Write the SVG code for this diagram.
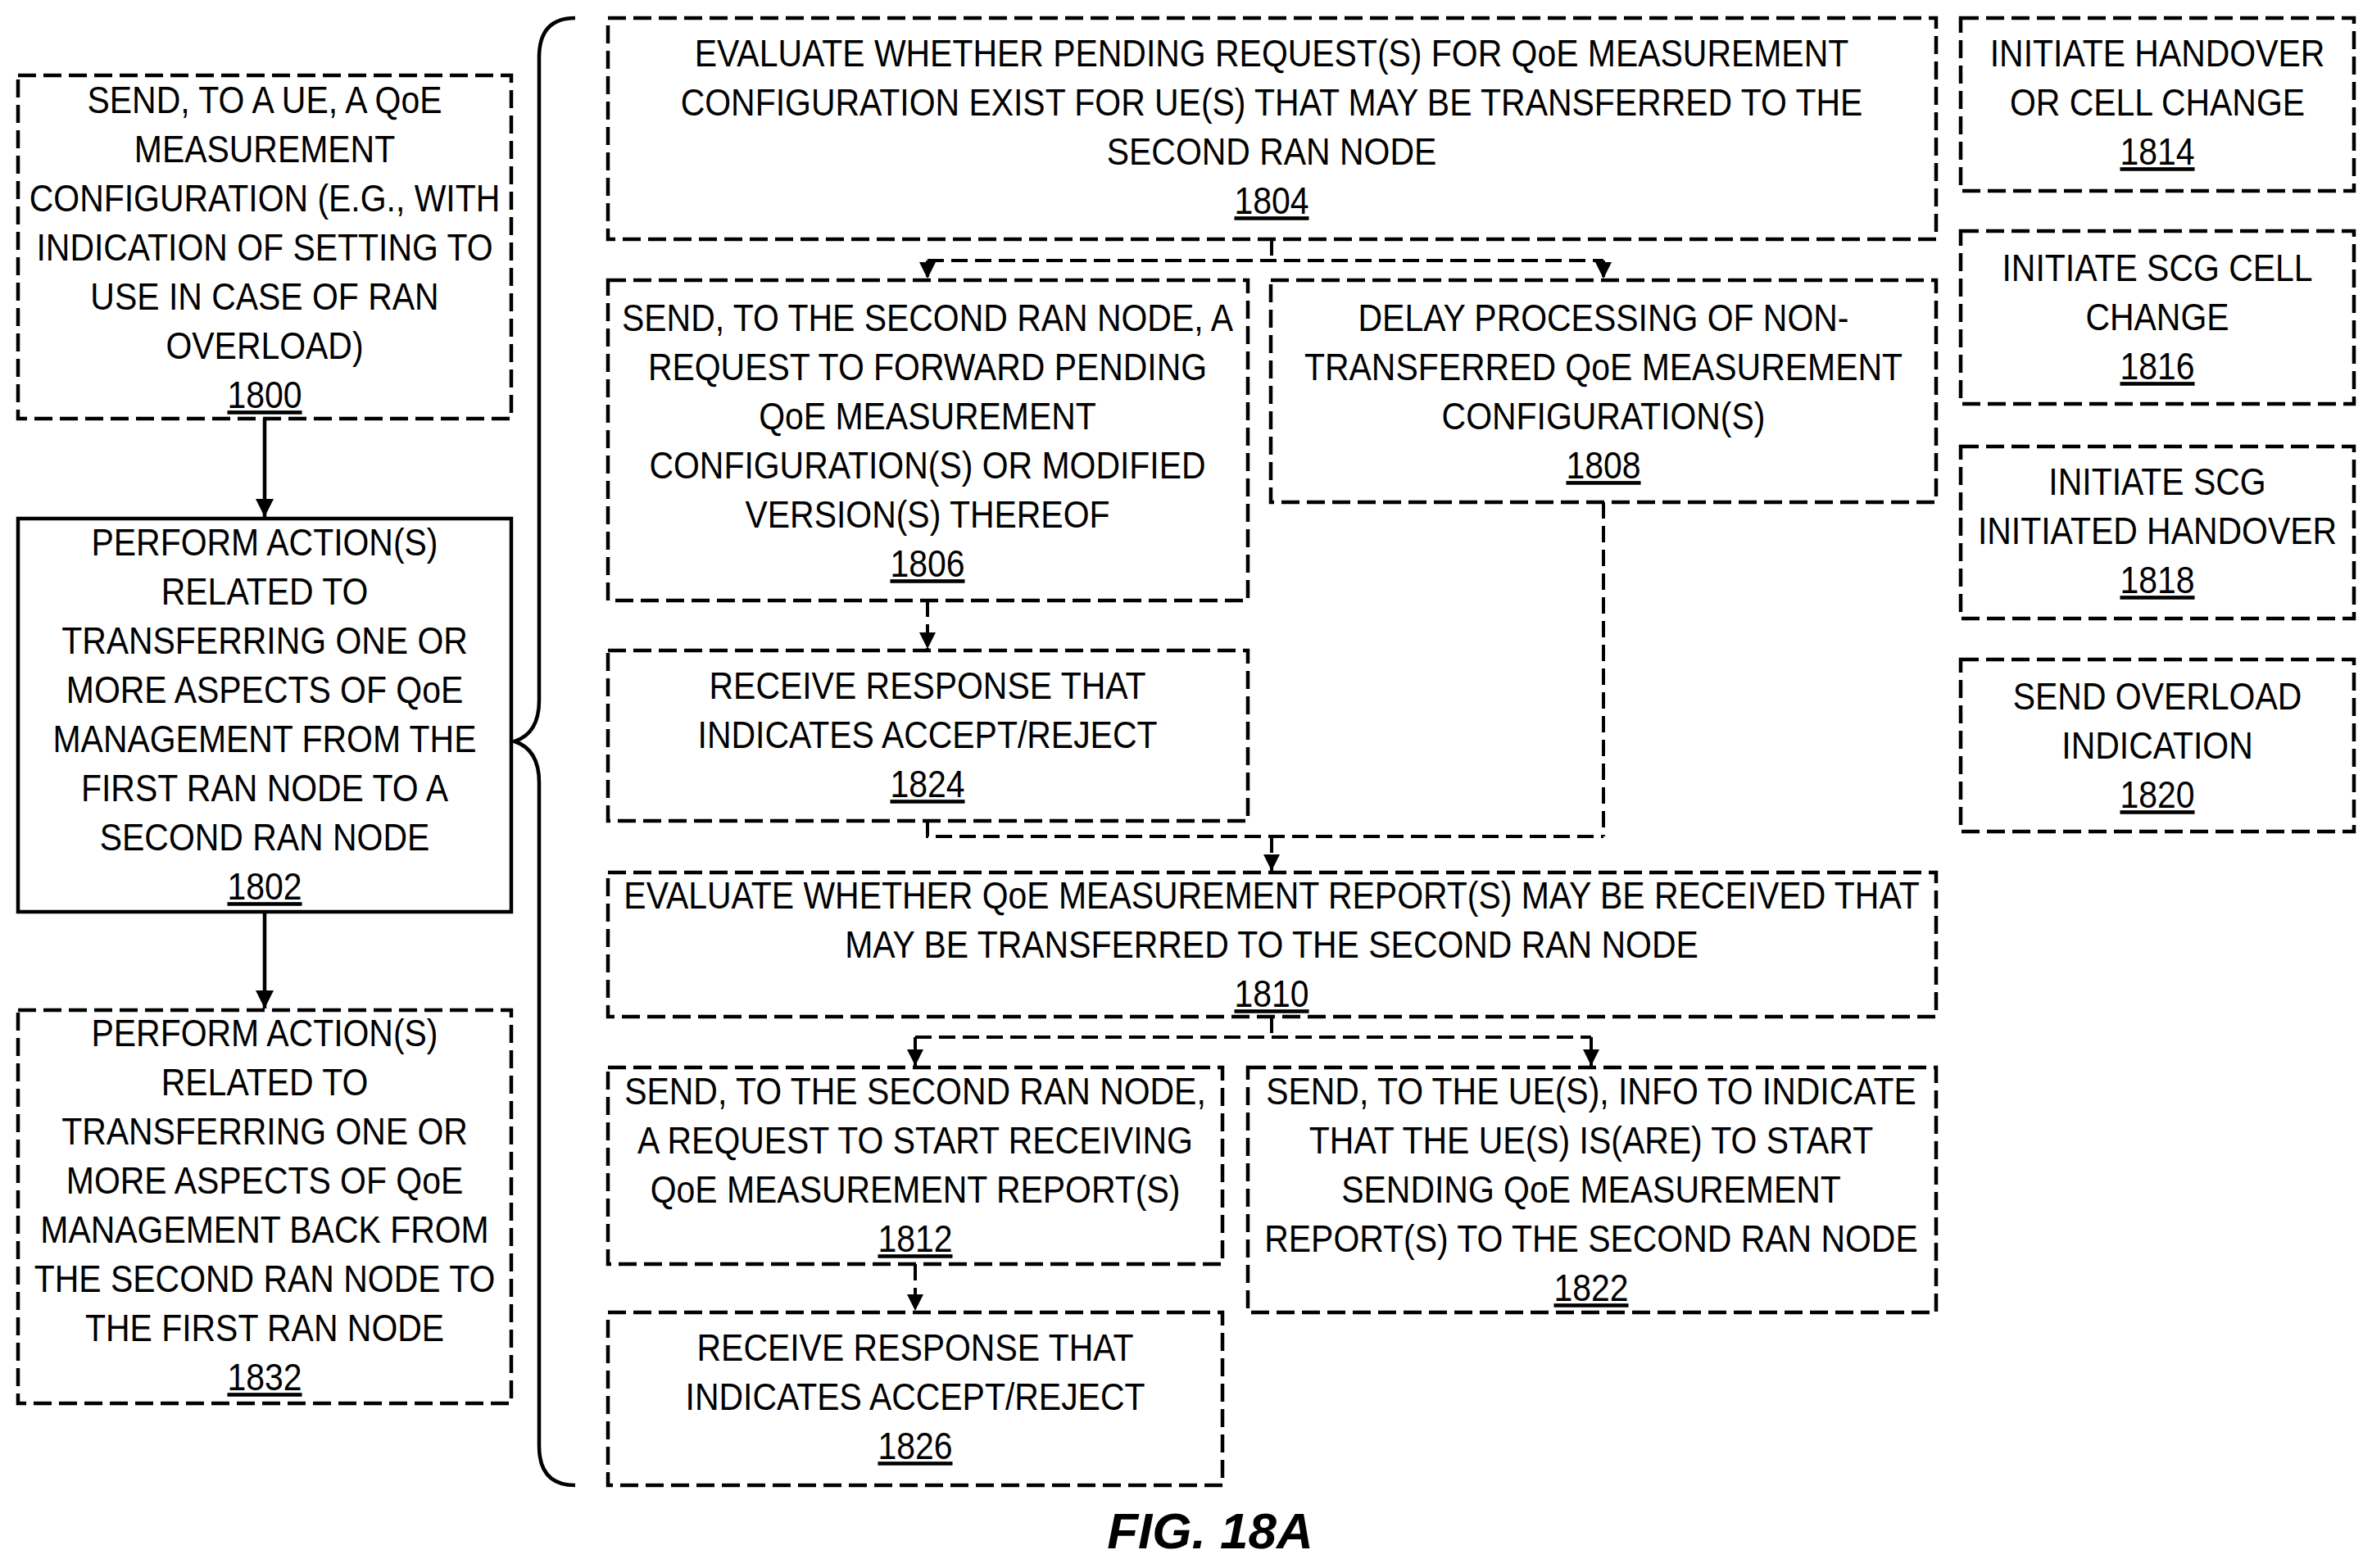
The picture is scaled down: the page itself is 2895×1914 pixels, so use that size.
<svg xmlns="http://www.w3.org/2000/svg" width="2895" height="1914" viewBox="0 0 2895 1914">
<defs>
<style>
.b{fill:none;stroke:#000;stroke-width:4.5;stroke-dasharray:22 9}
.s{fill:none;stroke:#000;stroke-width:4.5}
.c{fill:none;stroke:#000;stroke-width:4;stroke-dasharray:20 9}
.t{font-family:"Liberation Sans",Arial,sans-serif;font-size:46px;text-anchor:middle;fill:#000}
.u{text-decoration:underline}
</style>
<marker id="a" viewBox="0 0 10 10" refX="10" refY="5" markerWidth="5" markerHeight="5" orient="auto" markerUnits="strokeWidth"><path d="M0,0L10,5L0,10z"/></marker>
</defs>
<rect width="2895" height="1914" fill="#fff"/>
<g id="n1800"><rect class="b" x="22" y="92" width="602" height="419"/><text class="t" transform="translate(323,138) scale(0.89,1)"><tspan x="0">SEND, TO A UE, A QoE</tspan><tspan x="0" dy="60">MEASUREMENT</tspan><tspan x="0" dy="60">CONFIGURATION (E.G., WITH</tspan><tspan x="0" dy="60">INDICATION OF SETTING TO</tspan><tspan x="0" dy="60">USE IN CASE OF RAN</tspan><tspan x="0" dy="60">OVERLOAD)</tspan><tspan x="0" dy="60" class="u">1800</tspan></text></g>
<g id="n1802"><rect class="s" x="22" y="633" width="602" height="480"/><text class="t" transform="translate(323,678) scale(0.89,1)"><tspan x="0">PERFORM ACTION(S)</tspan><tspan x="0" dy="60">RELATED TO</tspan><tspan x="0" dy="60">TRANSFERRING ONE OR</tspan><tspan x="0" dy="60">MORE ASPECTS OF QoE</tspan><tspan x="0" dy="60">MANAGEMENT FROM THE</tspan><tspan x="0" dy="60">FIRST RAN NODE TO A</tspan><tspan x="0" dy="60">SECOND RAN NODE</tspan><tspan x="0" dy="60" class="u">1802</tspan></text></g>
<g id="n1832"><rect class="b" x="22" y="1233" width="602" height="480"/><text class="t" transform="translate(323,1277) scale(0.89,1)"><tspan x="0">PERFORM ACTION(S)</tspan><tspan x="0" dy="60">RELATED TO</tspan><tspan x="0" dy="60">TRANSFERRING ONE OR</tspan><tspan x="0" dy="60">MORE ASPECTS OF QoE</tspan><tspan x="0" dy="60">MANAGEMENT BACK FROM</tspan><tspan x="0" dy="60">THE SECOND RAN NODE TO</tspan><tspan x="0" dy="60">THE FIRST RAN NODE</tspan><tspan x="0" dy="60" class="u">1832</tspan></text></g>
<g id="n1804"><rect class="b" x="742" y="22" width="1621" height="270"/><text class="t" transform="translate(1552,81) scale(0.89,1)"><tspan x="0">EVALUATE WHETHER PENDING REQUEST(S) FOR QoE MEASUREMENT</tspan><tspan x="0" dy="60">CONFIGURATION EXIST FOR UE(S) THAT MAY BE TRANSFERRED TO THE</tspan><tspan x="0" dy="60">SECOND RAN NODE</tspan><tspan x="0" dy="60" class="u">1804</tspan></text></g>
<g id="n1806"><rect class="b" x="742" y="342" width="781" height="391"/><text class="t" transform="translate(1132,404) scale(0.89,1)"><tspan x="0">SEND, TO THE SECOND RAN NODE, A</tspan><tspan x="0" dy="60">REQUEST TO FORWARD PENDING</tspan><tspan x="0" dy="60">QoE MEASUREMENT</tspan><tspan x="0" dy="60">CONFIGURATION(S) OR MODIFIED</tspan><tspan x="0" dy="60">VERSION(S) THEREOF</tspan><tspan x="0" dy="60" class="u">1806</tspan></text></g>
<g id="n1808"><rect class="b" x="1551" y="342" width="812" height="271"/><text class="t" transform="translate(1957,404) scale(0.89,1)"><tspan x="0">DELAY PROCESSING OF NON-</tspan><tspan x="0" dy="60">TRANSFERRED QoE MEASUREMENT</tspan><tspan x="0" dy="60">CONFIGURATION(S)</tspan><tspan x="0" dy="60" class="u">1808</tspan></text></g>
<g id="n1824"><rect class="b" x="742" y="794" width="781" height="208"/><text class="t" transform="translate(1132,853) scale(0.89,1)"><tspan x="0">RECEIVE RESPONSE THAT</tspan><tspan x="0" dy="60">INDICATES ACCEPT/REJECT</tspan><tspan x="0" dy="60" class="u">1824</tspan></text></g>
<g id="n1810"><rect class="b" x="742" y="1065" width="1621" height="176"/><text class="t" transform="translate(1552,1109) scale(0.89,1)"><tspan x="0">EVALUATE WHETHER QoE MEASUREMENT REPORT(S) MAY BE RECEIVED THAT</tspan><tspan x="0" dy="60">MAY BE TRANSFERRED TO THE SECOND RAN NODE</tspan><tspan x="0" dy="60" class="u">1810</tspan></text></g>
<g id="n1812"><rect class="b" x="742" y="1303" width="750" height="240"/><text class="t" transform="translate(1117,1348) scale(0.89,1)"><tspan x="0">SEND, TO THE SECOND RAN NODE,</tspan><tspan x="0" dy="60">A REQUEST TO START RECEIVING</tspan><tspan x="0" dy="60">QoE MEASUREMENT REPORT(S)</tspan><tspan x="0" dy="60" class="u">1812</tspan></text></g>
<g id="n1822"><rect class="b" x="1523" y="1303" width="840" height="299"/><text class="t" transform="translate(1942,1348) scale(0.89,1)"><tspan x="0">SEND, TO THE UE(S), INFO TO INDICATE</tspan><tspan x="0" dy="60">THAT THE UE(S) IS(ARE) TO START</tspan><tspan x="0" dy="60">SENDING QoE MEASUREMENT</tspan><tspan x="0" dy="60">REPORT(S) TO THE SECOND RAN NODE</tspan><tspan x="0" dy="60" class="u">1822</tspan></text></g>
<g id="n1826"><rect class="b" x="742" y="1602" width="750" height="211"/><text class="t" transform="translate(1117,1661) scale(0.89,1)"><tspan x="0">RECEIVE RESPONSE THAT</tspan><tspan x="0" dy="60">INDICATES ACCEPT/REJECT</tspan><tspan x="0" dy="60" class="u">1826</tspan></text></g>
<g id="n1814"><rect class="b" x="2393" y="22" width="480" height="211"/><text class="t" transform="translate(2633,81) scale(0.89,1)"><tspan x="0">INITIATE HANDOVER</tspan><tspan x="0" dy="60">OR CELL CHANGE</tspan><tspan x="0" dy="60" class="u">1814</tspan></text></g>
<g id="n1816"><rect class="b" x="2393" y="282" width="480" height="211"/><text class="t" transform="translate(2633,343) scale(0.89,1)"><tspan x="0">INITIATE SCG CELL</tspan><tspan x="0" dy="60">CHANGE</tspan><tspan x="0" dy="60" class="u">1816</tspan></text></g>
<g id="n1818"><rect class="b" x="2393" y="545" width="480" height="210"/><text class="t" transform="translate(2633,604) scale(0.89,1)"><tspan x="0">INITIATE SCG</tspan><tspan x="0" dy="60">INITIATED HANDOVER</tspan><tspan x="0" dy="60" class="u">1818</tspan></text></g>
<g id="n1820"><rect class="b" x="2393" y="805" width="480" height="210"/><text class="t" transform="translate(2633,866) scale(0.89,1)"><tspan x="0">SEND OVERLOAD</tspan><tspan x="0" dy="60">INDICATION</tspan><tspan x="0" dy="60" class="u">1820</tspan></text></g>
<g id="connectors">
<path class="s" d="M702,22 Q658,22 658,70 L658,855 Q658,895 628,905 Q658,915 658,955 L658,1765 Q658,1813 702,1813"/>
<path class="s" d="M323,511 V631" marker-end="url(#a)"/>
<path class="s" d="M323,1113 V1231" marker-end="url(#a)"/>
<path class="c" d="M1552,292 V318 M1132,318 H1957"/>
<path class="c" d="M1132,318 V340" marker-end="url(#a)"/>
<path class="c" d="M1957,318 V340" marker-end="url(#a)"/>
<path class="c" d="M1132,733 V792" marker-end="url(#a)"/>
<path class="c" d="M1132,1002 V1021 H1957 M1957,613 V1021"/>
<path class="c" d="M1552,1021 V1063" marker-end="url(#a)"/>
<path class="c" d="M1552,1241 V1266 M1117,1266 H1942"/>
<path class="c" d="M1117,1266 V1301" marker-end="url(#a)"/>
<path class="c" d="M1942,1266 V1301" marker-end="url(#a)"/>
<path class="c" d="M1117,1543 V1600" marker-end="url(#a)"/>
</g>
<text x="1477" y="1890" style="font-family:'Liberation Sans',Arial,sans-serif;font-size:62px;font-weight:bold;font-style:italic;text-anchor:middle">FIG. 18A</text>
</svg>
